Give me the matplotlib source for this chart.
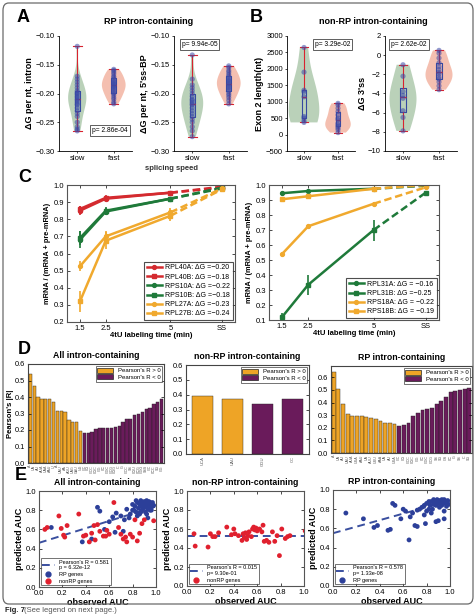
import matplotlib
matplotlib.use('Agg')
import matplotlib.pyplot as plt
import numpy as np
from matplotlib.patches import FancyBboxPatch, Patch
from matplotlib.lines import Line2D

plt.rcParams['font.family'] = ['Liberation Sans', 'DejaVu Sans']
plt.rcParams['axes.linewidth'] = 0.6
plt.rcParams['xtick.major.width'] = 0.5
plt.rcParams['ytick.major.width'] = 0.5
plt.rcParams['xtick.major.size'] = 2
plt.rcParams['ytick.major.size'] = 2
plt.rcParams['xtick.labelsize'] = 5.5
plt.rcParams['ytick.labelsize'] = 5.5
plt.rcParams['axes.unicode_minus'] = True

# ---------------- DATA ----------------
speed_labels = ['slow', 'fast']
# Panel A (RP intron-containing)
a1_slow = [-0.118, -0.170, -0.175, -0.180, -0.185, -0.190, -0.195, -0.198, -0.200, -0.202, -0.205,
           -0.207, -0.210, -0.212, -0.215, -0.218, -0.220, -0.225, -0.230, -0.235, -0.240, -0.250,
           -0.258, -0.262, -0.265]
a1_fast = [-0.158, -0.160, -0.163, -0.166, -0.170, -0.172, -0.175, -0.178, -0.180, -0.182, -0.184,
           -0.186, -0.188, -0.190, -0.192, -0.195, -0.198, -0.200, -0.203, -0.207, -0.210, -0.215, -0.218]
a2_slow = [-0.133, -0.175, -0.185, -0.190, -0.195, -0.200, -0.205, -0.210, -0.212, -0.215, -0.218,
           -0.220, -0.225, -0.230, -0.235, -0.240, -0.245, -0.250, -0.258, -0.265, -0.275]
a2_fast = [-0.152, -0.155, -0.160, -0.163, -0.167, -0.170, -0.173, -0.176, -0.178, -0.180, -0.183,
           -0.185, -0.188, -0.190, -0.193, -0.196, -0.200, -0.203, -0.207, -0.212, -0.218]
# Panel B (non-RP intron-containing)
b1_slow = [370, 420, 500, 550, 1150, 1300, 1350, 1900, 2650]
b1_fast = [60, 150, 200, 250, 300, 350, 450, 500, 600, 700, 800, 900, 950]
b2_slow = [-7.9, -6.5, -5.8, -4.5, -4.2, -3.8, -2.2, -1.0]
b2_fast = [-3.6, -3.2, -2.8, -2.5, -2.3, -2.0, -1.8, -1.5, -1.2, -0.8, -0.3, 0.2, 0.5]
p_values = ['p= 2.86e-04', 'p= 9.94e-05', 'p= 3.29e-02', 'p= 2.62e-02']

# Panel C
time_points = [1.5, 2.5, 5, 7]
time_labels = ['1.5', '2.5', '5', 'SS']
c1_genes = ['RPL40A: \u0394G =\u22120.20', 'RPL40B: \u0394G =\u22120.18', 'RPS10A: \u0394G =\u22120.22',
            'RPS10B: \u0394G =\u22120.18', 'RPL27A: \u0394G =\u22120.23', 'RPL27B: \u0394G =\u22120.24']
c1_values = [[0.850, 0.920, 0.955, 0.985],
             [0.860, 0.925, 0.955, 0.990],
             [0.680, 0.845, 0.920, 0.980],
             [0.690, 0.850, 0.920, 0.985],
             [0.525, 0.700, 0.840, 0.980],
             [0.320, 0.675, 0.820, 0.975]]
c1_errors = [[0.025, 0.015, 0.008, 0.0],
             [0.020, 0.015, 0.008, 0.0],
             [0.050, 0.020, 0.008, 0.0],
             [0.040, 0.020, 0.008, 0.0],
             [0.030, 0.030, 0.025, 0.0],
             [0.060, 0.050, 0.030, 0.0]]
c2_genes = ['RPL31A: \u0394G = \u22120.16', 'RPL31B: \u0394G =\u22120.25',
            'RPS18A: \u0394G = \u22120.22', 'RPS18B: \u0394G = \u22120.19']
c2_values = [[0.945, 0.960, 0.975, 0.995],
             [0.120, 0.335, 0.700, 0.950],
             [0.540, 0.725, 0.875, 0.985],
             [0.905, 0.925, 0.975, 1.000]]
c2_errors = [[0.010, 0.012, 0.005, 0.0],
             [0.030, 0.065, 0.070, 0.0],
             [0.005, 0.008, 0.005, 0.0],
             [0.005, 0.008, 0.005, 0.0]]

# Panel D
d1_pos = [0.54, 0.465, 0.40, 0.385, 0.385, 0.385, 0.37, 0.315, 0.315, 0.31, 0.26, 0.25, 0.25, 0.195]
d1_neg = [0.18, 0.18, 0.19, 0.205, 0.21, 0.21, 0.215, 0.215, 0.22, 0.225, 0.25, 0.265, 0.265, 0.29,
          0.295, 0.31, 0.325, 0.335, 0.36, 0.37, 0.385]
d1_labels = ['A', 'UA', 'AU', 'AUA', 'UAA', 'AAU', 'U', 'A', 'UAU', 'AA', 'AGU', 'UAG', 'GAU', 'UG',
             'GC', 'CG', 'GCC', 'CGC', 'GG', 'CC', 'GGC', 'GCG', 'CGG', 'C', 'G', 'GCC', 'SS',
             'CGU', 'CCG', 'GGG', 'SSS', 'GC', 'CCC', 'SG', 'GG']
d2_pos = [0.39, 0.37]
d2_neg = [0.335, 0.37]
d2_labels = ['UCA', 'UAU', 'GGU', 'CC']
d3_pos = [0.645, 0.505, 0.385, 0.31, 0.295, 0.29, 0.29, 0.285, 0.275, 0.27, 0.255, 0.24, 0.235, 0.23]
d3_neg = [0.215, 0.22, 0.24, 0.29, 0.315, 0.345, 0.35, 0.355, 0.39, 0.41, 0.445, 0.48, 0.49,
          0.50, 0.505, 0.515]
d3_labels = ['A', 'UA', 'AU', 'UAU', 'AUA', 'UUA', 'AAU', 'UA', 'AUU', 'UUU', 'AAA', 'UA', 'AU',
             'UUA', 'GC', 'CG', 'GCC', 'CGC', 'GG', 'CC', 'GGC', 'GCG', 'SS', 'SG', 'GS', 'CC',
             'G', 'SS', 'C', 'SG']

# Panel E  (observed AUC, predicted AUC)
e1_rp = [(0.105, 0.62), (0.37, 0.47), (0.45, 0.50), (0.50, 0.83), (0.52, 0.79), (0.56, 0.60),
         (0.60, 0.68), (0.63, 0.73), (0.65, 0.57), (0.66, 0.77), (0.70, 0.74), (0.72, 0.58),
         (0.73, 0.70), (0.75, 0.81), (0.77, 0.72), (0.78, 0.76), (0.80, 0.86), (0.81, 0.80),
         (0.82, 0.84), (0.83, 0.78), (0.84, 0.88), (0.85, 0.82), (0.86, 0.86), (0.86, 0.76),
         (0.87, 0.90), (0.88, 0.84), (0.88, 0.80), (0.89, 0.87), (0.90, 0.89), (0.90, 0.83),
         (0.91, 0.86), (0.91, 0.78), (0.92, 0.90), (0.92, 0.84), (0.93, 0.87), (0.93, 0.81),
         (0.94, 0.89), (0.94, 0.85), (0.95, 0.83), (0.95, 0.88), (0.96, 0.86), (0.96, 0.80),
         (0.97, 0.84), (0.97, 0.88), (0.98, 0.85), (0.84, 0.74), (0.87, 0.78), (0.89, 0.82),
         (0.92, 0.76), (0.80, 0.80), (0.83, 0.90), (0.93, 0.72), (0.90, 0.88), (0.95, 0.80)]
e1_nonrp = [(0.05, 0.60), (0.07, 0.62), (0.17, 0.74), (0.19, 0.61), (0.21, 0.54), (0.24, 0.64),
            (0.22, 0.52), (0.34, 0.76), (0.38, 0.53), (0.40, 0.54), (0.43, 0.47), (0.48, 0.49),
            (0.50, 0.65), (0.52, 0.58), (0.55, 0.53), (0.57, 0.53), (0.58, 0.59), (0.64, 0.88),
            (0.70, 0.55), (0.72, 0.50), (0.74, 0.52), (0.75, 0.47), (0.78, 0.55), (0.80, 0.52),
            (0.82, 0.70), (0.84, 0.48), (0.86, 0.56), (0.88, 0.66), (0.90, 0.70), (0.98, 0.69),
            (0.68, 0.62), (0.60, 0.55), (0.45, 0.56), (0.47, 0.64)]
e2_nonrp = [(0.06, 0.55), (0.07, 0.42), (0.18, 0.41), (0.20, 0.55), (0.22, 0.52), (0.24, 0.52),
            (0.27, 0.56), (0.34, 0.62), (0.38, 0.54), (0.40, 0.60), (0.41, 0.55), (0.44, 0.53),
            (0.47, 0.48), (0.48, 0.55), (0.49, 0.51), (0.50, 0.56), (0.51, 0.49), (0.52, 0.53),
            (0.53, 0.57), (0.56, 0.60), (0.57, 0.62), (0.58, 0.59), (0.59, 0.61), (0.60, 0.58),
            (0.64, 0.57), (0.65, 0.64), (0.66, 0.47), (0.68, 0.48), (0.70, 0.46), (0.73, 0.57),
            (0.75, 0.47), (0.77, 0.53), (0.79, 0.32), (0.81, 0.60), (0.84, 0.50), (0.86, 0.52),
            (0.88, 0.53), (1.01, 0.58), (0.62, 0.60), (0.55, 0.52)]
e3_rp = [(0.11, 0.76), (0.26, 0.70), (0.35, 0.61), (0.38, 0.63), (0.47, 0.58), (0.49, 0.59),
         (0.51, 0.86), (0.53, 0.84), (0.58, 0.70), (0.60, 0.80), (0.62, 0.78), (0.65, 0.48),
         (0.66, 0.72), (0.68, 0.76), (0.70, 0.63), (0.72, 0.62), (0.72, 0.79), (0.74, 0.80),
         (0.76, 0.82), (0.78, 0.74), (0.79, 0.65), (0.80, 0.78), (0.80, 0.86), (0.82, 0.88),
         (0.83, 0.84), (0.84, 0.76), (0.85, 0.80), (0.86, 0.90), (0.87, 0.87), (0.88, 0.84),
         (0.88, 0.67), (0.89, 0.90), (0.90, 0.86), (0.90, 0.68), (0.91, 0.82), (0.92, 0.88),
         (0.93, 0.84), (0.93, 0.90), (0.94, 0.87), (0.95, 0.78), (0.95, 0.70), (0.96, 0.86),
         (0.97, 0.88), (0.98, 0.89), (0.99, 0.85), (0.84, 0.88), (0.86, 0.85), (0.91, 0.89),
         (0.88, 0.87), (0.95, 0.90), (0.97, 0.83), (0.82, 0.80), (0.78, 0.84)]
e_fit_intercept = [0.46, 0.53, 0.55]
e_fit_slope = [0.38, 0.0, 0.34]
e_legend_fit = ["Pearson's R = 0.581\np = 6.32e-12", "Pearson's R = 0.015\np= 9.30e-01",
                "Pearson's R = 0.578\np= 1.33e-08"]

# ---------------- STYLE ----------------
GREEN_V = '#a9c6a8'
SALMON_V = '#f2b09c'
BOXBLUE = '#3548a0'
RED = '#d8232f'
PTBLUE = '#3a4aa8'
C_RED = '#d42a2f'
C_GREEN = '#1f7a3a'
C_ORANGE = '#f0a92e'
D_ORANGE = '#eea426'
D_PURPLE = '#6a1b5b'
E_BLUE = '#2c3f99'
E_RED = '#e0202e'

W, H = 477, 615
fig = plt.figure(figsize=(W / 100, H / 100), dpi=100)


def ax_px(l, r, t, b):
    return fig.add_axes([l / W, 1 - b / H, (r - l) / W, (b - t) / H])


def label_px(x, y, s, **kw):
    fig.text(x / W, 1 - y / H, s, **kw)


# rounded frame
fig.patches.append(FancyBboxPatch((3 / W, 1 - 604 / H), 470 / W, 601 / H,
                                  boxstyle='round,pad=0,rounding_size=0.012',
                                  transform=fig.transFigure, fill=False,
                                  edgecolor='#6a6a6a', lw=0.9))


def violin_panel(ax, slow, fast, ylim, yticks, ylabel, pval, ploc, widths):
    parts = ax.violinplot([slow, fast], positions=[1, 2], widths=widths, showextrema=False)
    for body, c in zip(parts['bodies'], [GREEN_V, SALMON_V]):
        body.set_facecolor(c)
        body.set_edgecolor('none')
        body.set_alpha(0.8)
    ax.boxplot([slow, fast], positions=[1, 2], widths=0.14, whis=(0, 100), showfliers=False,
               manage_ticks=False,
               boxprops=dict(color=BOXBLUE, lw=0.8), medianprops=dict(color=RED, lw=1.0),
               whiskerprops=dict(color=RED, lw=0.8), capprops=dict(color=RED, lw=0.8),
               capwidths=0.24)
    for pos, vals in zip([1, 2], [slow, fast]):
        ax.scatter(np.full(len(vals), pos), vals, s=14, color=PTBLUE, alpha=0.55,
                   edgecolor='none', zorder=3)
    ax.set_xlim(0.5, 2.5)
    ax.set_ylim(*ylim)
    ax.set_yticks(yticks)
    ax.set_xticks([1, 2])
    ax.set_xticklabels(speed_labels)
    ax.spines['top'].set_visible(False)
    ax.spines['right'].set_visible(False)
    ax.set_ylabel(ylabel, fontsize=6.5, fontweight='bold', labelpad=1)
    ax.tick_params(length=1.5, pad=1.5)
    ax.text(ploc[0], ploc[1], pval, transform=ax.transAxes, fontsize=4.8,
            ha='center', va='center',
            bbox=dict(boxstyle='square,pad=0.3', fc='white', ec='#444444', lw=0.6))


axA1 = ax_px(59, 132, 36, 151)
violin_panel(axA1, a1_slow, a1_fast, (-0.30, -0.10), np.arange(-0.30, -0.099, 0.05),
             '\u0394G per nt, intron', p_values[0], (0.7, 0.18), [0.5, 0.65])
axA1.set_yticklabels(['\u22120.30', '\u22120.25', '\u22120.20', '\u22120.15', '\u22120.10'])
axA2 = ax_px(174, 247, 36, 151)
violin_panel(axA2, a2_slow, a2_fast, (-0.30, -0.10), np.arange(-0.30, -0.099, 0.05),
             "\u0394G per nt, 5'ss-BP", p_values[1], (0.35, 0.93), [0.6, 0.65])
axA2.set_yticklabels(['\u22120.30', '\u22120.25', '\u22120.20', '\u22120.15', '\u22120.10'])
axB1 = ax_px(287, 355, 36, 151)
violin_panel(axB1, b1_slow, b1_fast, (-500, 3000), np.arange(-500, 3001, 500),
             'Exon 2 length(nt)', p_values[2], (0.67, 0.93), [0.9, 0.75])
axB2 = ax_px(385, 457, 36, 151)
violin_panel(axB2, b2_slow, b2_fast, (-10, 2), np.arange(-10, 2.1, 2),
             "\u0394G 3'ss", p_values[3], (0.33, 0.93), [0.75, 0.75])

label_px(17, 17, 'A', fontsize=13, fontweight='bold', va='center')
label_px(250, 17, 'B', fontsize=13, fontweight='bold', va='center')
label_px(149, 21, 'RP intron-containing', fontsize=6.5, fontweight='bold', ha='center', va='center')
label_px(373, 21, 'non-RP intron-containing', fontsize=6.5, fontweight='bold', ha='center', va='center')
label_px(172, 168, 'splicing speed', fontsize=5.5, fontweight='bold', ha='center', va='center',
         color='#333333')

# ---------------- Panel C ----------------
def c_panel(ax, genes, values, errors, colors, markers, ylim, yticks, lfs):
    handles = []
    for g, v, e, c, m in zip(genes, values, errors, colors, markers):
        ax.errorbar(time_points[:3], v[:3], yerr=e[:3], color=c, lw=1.8, marker=m, ms=2.8,
                    elinewidth=1.2, capsize=0, zorder=3)
        ax.plot(time_points[2:], v[2:], color=c, lw=1.8, ls=(0, (3, 1.5)), marker=m, ms=2.8,
                markevery=[1], zorder=2)
        handles.append(Line2D([], [], color=c, lw=1.8, marker=m, ms=2.8))
    ax.set_xlim(1.0, 7.5)
    ax.set_ylim(*ylim)
    ax.set_yticks(yticks)
    ax.set_xticks(time_points)
    ax.set_xticklabels(time_labels)
    ax.tick_params(direction='in', length=2, pad=2, top=True, right=True)
    for sp in ax.spines.values():
        sp.set_color('#555555')
        sp.set_linewidth(0.8)
    ax.set_xlabel('4tU labeling time (min)', fontsize=5.5, fontweight='bold', labelpad=0)
    ax.set_ylabel('mRNA / (mRNA + pre-mRNA)', fontsize=5.3, fontweight='bold', labelpad=2)
    leg = ax.legend(handles, genes, loc='lower right', fontsize=lfs, frameon=True, fancybox=False,
                    edgecolor='#222222', handlelength=2.2, labelspacing=0.32, borderpad=0.35,
                    handletextpad=0.5, borderaxespad=0.3)
    leg.get_frame().set_linewidth(0.8)


axC1 = ax_px(67, 235, 185, 322)
c_panel(axC1, c1_genes, c1_values, c1_errors,
        [C_RED, C_RED, C_GREEN, C_GREEN, C_ORANGE, C_ORANGE], ['o', 's', 'o', 's', 'o', 's'],
        (0.2, 1.0), np.arange(0.2, 1.01, 0.1), 5.0)
axC2 = ax_px(269, 439, 185, 320)
c_panel(axC2, c2_genes, c2_values, c2_errors,
        [C_GREEN, C_GREEN, C_ORANGE, C_ORANGE], ['o', 's', 'o', 's'],
        (0.1, 1.0), np.arange(0.1, 1.01, 0.1), 5.0)
label_px(18, 178, 'C', fontsize=13, fontweight='bold', va='center')

# ---------------- Panel D ----------------
def d_panel(ax, pos, neg, labels, title, ylim, width, lfs):
    vals = pos + neg
    x = np.arange(len(vals))
    cols = [D_ORANGE] * len(pos) + [D_PURPLE] * len(neg)
    ax.bar(x, vals, width=width, color=cols, edgecolor='#222222', linewidth=0.3)
    ax.set_xlim(-0.6, len(vals) - 0.4)
    ax.set_ylim(*ylim)
    ax.set_yticks(np.arange(0, 0.61, 0.1))
    ax.set_xticks(x)
    ax.set_xticklabels(labels[:len(vals)], rotation=90, fontsize=lfs, color='#555555')
    ax.tick_params(axis='y', direction='in', length=2, pad=2, labelsize=5.3, right=True)
    ax.tick_params(axis='x', length=0, pad=1.5)
    for sp in ax.spines.values():
        sp.set_color('#444444')
        sp.set_linewidth(0.8)
    ax.set_title(title, fontsize=6.3, fontweight='bold', pad=4)
    hs = [Patch(facecolor=D_ORANGE, edgecolor='#222222', lw=0.5),
          Patch(facecolor=D_PURPLE, edgecolor='#222222', lw=0.5)]
    leg = ax.legend(hs, ["Pearson's R > 0", "Pearson's R < 0"], loc='upper right', fontsize=4.3,
                    fancybox=False, edgecolor='#333333', handlelength=2.6, handleheight=0.9,
                    labelspacing=0.2, borderpad=0.3, borderaxespad=0.3)
    leg.get_frame().set_linewidth(0.6)


axD1 = ax_px(28, 164, 364, 463)
d_panel(axD1, d1_pos, d1_neg, d1_labels, 'All intron-containing', (0, 0.6), 0.85, 2.6)
axD1.set_ylabel("Pearson's |R|", fontsize=5.5, fontweight='bold', labelpad=1)
axD2 = ax_px(186, 309, 365, 454)
d_panel(axD2, d2_pos, d2_neg, d2_labels, 'non-RP intron-containing', (0, 0.6), 0.72, 3.0)
axD2.set_xlim(-0.55, 3.55)
axD3 = ax_px(331, 472, 366, 453)
d_panel(axD3, d3_pos, d3_neg, d3_labels, 'RP intron-containing', (0, 0.69), 0.85, 2.6)
label_px(18, 350, 'D', fontsize=13, fontweight='bold', va='center')

# ---------------- Panel E ----------------
def e_panel(ax, groups, idx, title):
    xs = np.array([0.0, 1.0])
    ax.plot(xs, e_fit_intercept[idx] + e_fit_slope[idx] * xs, color='#3a4f9f', lw=1.4,
            ls=(0, (4, 2.5)), zorder=1)
    handles = [Line2D([], [], color='#3a4f9f', lw=1.4, ls=(0, (4, 2.5)))]
    labels = [e_legend_fit[idx]]
    for pts, col, lab in groups:
        arr = np.array(pts)
        ax.scatter(arr[:, 0], arr[:, 1], s=12, color=col, edgecolor='none', zorder=3)
        handles.append(Line2D([], [], ls='none', marker='o', ms=3.5, color=col))
        labels.append(lab)
    ax.set_xlim(0, 1.0)
    ax.set_ylim(0, 1.0)
    ax.set_xticks(np.arange(0, 1.01, 0.2))
    ax.set_yticks(np.arange(0, 1.01, 0.2))
    ax.tick_params(direction='in', length=2, pad=2, labelsize=5.5, top=True, right=True)
    for sp in ax.spines.values():
        sp.set_color('#555555')
        sp.set_linewidth(0.8)
    ax.set_xlabel('observed AUC', fontsize=6.5, fontweight='bold', labelpad=1)
    ax.set_ylabel('predicted AUC', fontsize=6.5, fontweight='bold', labelpad=1)
    ax.set_title(title, fontsize=6.3, fontweight='bold', pad=4)
    leg = ax.legend(handles, labels, loc='lower left', fontsize=4.0, fancybox=False,
                    edgecolor='#333333', handlelength=2.2, labelspacing=0.3, borderpad=0.3,
                    borderaxespad=0.3)
    leg.get_frame().set_linewidth(0.6)


axE1 = ax_px(39, 156, 491, 587)
e_panel(axE1, [(e1_rp, E_BLUE, 'RP genes'), (e1_nonrp, E_RED, 'nonRP genes')], 0,
        'All intron-containing')
axE2 = ax_px(187, 304, 491, 586)
e_panel(axE2, [(e2_nonrp, E_RED, 'nonRP genes')], 1, 'non-RP intron-containing')
axE3 = ax_px(333, 450, 490, 586)
e_panel(axE3, [(e3_rp, E_BLUE, 'RP genes')], 2, 'RP intron-containing')
label_px(15, 476, 'E', fontsize=13, fontweight='bold', va='center')

# caption
label_px(5, 611, 'Fig. 7', fontsize=5.5, fontweight='bold', va='center', color='#222222')
label_px(24, 611, '(See legend on next page.)', fontsize=5.5, va='center', color='#555555')

fig.savefig('out.png', dpi=100)
